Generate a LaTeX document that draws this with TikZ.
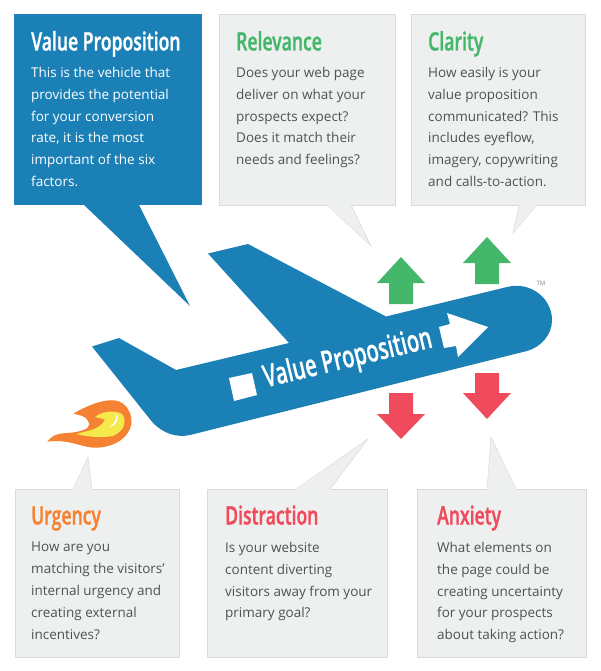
\documentclass[tikz,border=0pt]{standalone}
\usepackage{fontspec}
\setmainfont{Open Sans}
\newfontfamily\headfont[FakeStretch=0.69,FakeBold=1]{Open Sans Semibold}
\newfontfamily\planefont[FakeStretch=0.655,FakeBold=0.4]{Open Sans Semibold}
\definecolor{vpblue}{HTML}{1A80B6}
\definecolor{boxgray}{HTML}{EEF0EF}
\definecolor{boxline}{HTML}{D9DBDA}
\definecolor{upgreen}{HTML}{45B76B}
\definecolor{downred}{HTML}{F04B5C}
\definecolor{urgorange}{HTML}{F58233}
\definecolor{flameyellow}{HTML}{F5E94C}
\definecolor{bodygray}{HTML}{4D5354}
\tikzset{
  x=1pt,y=-1pt,
  graybox/.style={draw=boxline,fill=boxgray,line width=0.8pt,minimum width=#1,inner sep=0pt},
  bluebox/.style={fill=vpblue,minimum width=#1,inner sep=0pt},
  headtext/.style={anchor=base west,inner sep=0pt,font=\headfont\fontsize{25.5}{27}\selectfont},
  bodytext/.style={anchor=north west,inner sep=0pt,align=left,text=bodygray,font=\fontsize{13.5}{21.8}\selectfont},
  tailfill/.style={fill=boxgray},
  tailedge/.style={draw=boxline,line width=0.5pt},
}
\begin{document}
\begin{tikzpicture}
\useasboundingbox (0,0) rectangle (600,671);
% boxes
\node[bluebox=188pt,minimum height=191pt] (vp) at (108,109.5) {};
\node[graybox=176.5pt,minimum height=191pt] (rel) at (307.5,109.5) {};
\node[graybox=174.5pt,minimum height=191pt] (cla) at (498.5,109.5) {};
\node[graybox=164.5pt,minimum height=168pt] (urg) at (97.5,573) {};
\node[graybox=180.5pt,minimum height=168pt] (dis) at (297.5,573) {};
\node[graybox=169.5pt,minimum height=168pt] (anx) at (502,573) {};
% tails
\coordinate (vpT) at (190,306);
\fill[vpblue] (84,205) -- (vpT) -- (139,205) -- cycle;
\coordinate (relT) at (371,246);
\fill[tailfill] (327,204) -- (relT) -- (351,204) -- cycle;
\draw[tailedge] (327,205) -- (relT) -- (351,205);
\coordinate (claT) at (513,233);
\fill[tailfill] (519,204) -- (claT) -- (537,204) -- cycle;
\draw[tailedge] (519,205) -- (claT) -- (537,205);
\coordinate (urgT) at (88,457);
\fill[tailfill] (73,490) -- (urgT) -- (92,490) -- cycle;
\draw[tailedge] (73,489) -- (urgT) -- (92,489);
\coordinate (disT) at (368,439);
\fill[tailfill] (296,490) -- (disT) -- (330,490) -- cycle;
\draw[tailedge] (296,489) -- (disT) -- (330,489);
\coordinate (anxT) at (491,437);
\fill[tailfill] (487,490) -- (anxT) -- (516,490) -- cycle;
\draw[tailedge] (487,489) -- (anxT) -- (516,489);
% plane
\fill[vpblue] (92,346.5) -- (119,338) -- (176,370) -- (289,343) -- (208,253.5) -- (248,244)
  -- (386,316.5) -- (507,287)
  .. controls (530,281) and (552,298) .. (552,320)
  .. controls (552,335) and (541,347) .. (527,351)
  -- (190,435)
  .. controls (176,438) and (163,433) .. (153,423) -- cycle;
\fill[white] (229,378) -- (252,373) -- (257,395) -- (234,401) -- cycle;
\fill[white] (439,327) -- (450,324) -- (447,313) -- (488,327) -- (458,357) -- (456,346) -- (444,348) -- cycle;
\node[rotate=13.5,inner sep=0pt,text=white,font=\planefont\fontsize{31}{33}\selectfont] (planelabel) at (348,359.5) {Value Proposition};
\node[inner sep=0pt,text=gray,font=\fontsize{6}{7}\selectfont] (tm) at (541,283) {TM};
% arrows
\fill[upgreen] (401,257) -- (425,283) -- (413,283) -- (413,304) -- (389,304) -- (389,283) -- (377,283) -- cycle;
\fill[upgreen] (487,237) -- (511,263) -- (499,263) -- (499,284) -- (475,284) -- (475,263) -- (463,263) -- cycle;
\fill[downred] (389,393) -- (413,393) -- (413,414) -- (425,414) -- (401,439) -- (377,414) -- (389,414) -- cycle;
\fill[downred] (475,373) -- (499,373) -- (499,393) -- (511,393) -- (487,419) -- (463,393) -- (475,393) -- cycle;
% flame
\fill[urgorange] (47.3,441.7)
  .. controls (55,431) and (66,434) .. (76,432)
  .. controls (86,430) and (92,427) .. (88,421)
  .. controls (85,415) and (80,416) .. (73.5,413.5)
  .. controls (90,404) and (105,399) .. (115,400.5)
  .. controls (127,402) and (132,414) .. (131.5,423)
  .. controls (129,441) and (108,449) .. (92,447.5)
  .. controls (78,446) and (68,439) .. (47.3,441.7) -- cycle;
\fill[flameyellow] (76.5,434)
  .. controls (88,430) and (98,431) .. (105,420)
  .. controls (102,418) and (98,418) .. (95,417)
  .. controls (102,411) and (115,410) .. (122,414)
  .. controls (127,420) and (125,431) .. (113,436)
  .. controls (102,438) and (88,437) .. (76.5,434) -- cycle;
\fill[white] (116,418) .. controls (117,416) and (116,414) .. (114,413.5)
  .. controls (120,414) and (119,424) .. (110,427)
  .. controls (113,424) and (116,421) .. (116,418) -- cycle;
% headings
\node[headtext,text=white] (h1) at (31,50.5) {Value Proposition};
\node[headtext,text=upgreen] (h2) at (236,50.5) {Relevance};
\node[headtext,text=upgreen] (h3) at (428,50.5) {Clarity};
\node[headtext,text=urgorange] (h4) at (31,524.5) {Urgency};
\node[headtext,text=downred] (h5) at (225,524.5) {Distraction};
\node[headtext,text=downred] (h6) at (437,524.5) {Anxiety};
% bodies
\node[bodytext,text=white] (b1) at (31,67) {This is the vehicle that\\provides the potential\\for your conversion\\rate, it is the most\\important of the six\\factors.};
\node[bodytext] (b2) at (236,67) {Does your web page\\deliver on what your\\prospects expect?\\Does it match their\\needs and feelings?};
\node[bodytext] (b3) at (428,67) {How easily is your\\value proposition\\communicated? This\\includes eyeflow,\\imagery, copywriting\\and calls-to-action.};
\node[bodytext] (b4) at (31,542) {How are you\\matching the visitors’\\internal urgency and\\creating external\\incentives?};
\node[bodytext] (b5) at (225,542) {Is your website\\content diverting\\visitors away from your\\primary goal?};
\node[bodytext] (b6) at (437,542) {What elements on\\the page could be\\creating uncertainty\\for your prospects\\about taking action?};
\end{tikzpicture}
\end{document}
